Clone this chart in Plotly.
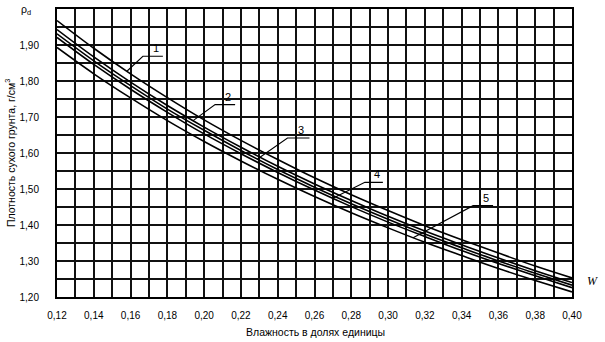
import numpy as np
import plotly.graph_objects as go

# Moisture content (fraction) and dry density curves (g/cm3)
W = [0.12, 0.14, 0.16, 0.18, 0.20, 0.22, 0.24, 0.26, 0.28, 0.30, 0.32, 0.34, 0.36, 0.38, 0.40]
curve1 = [1.968, 1.891, 1.820, 1.754, 1.692, 1.635, 1.582, 1.531, 1.484, 1.440, 1.398, 1.359, 1.322, 1.286, 1.253]
curve2 = [1.943, 1.867, 1.797, 1.732, 1.672, 1.616, 1.563, 1.514, 1.468, 1.424, 1.383, 1.345, 1.308, 1.273, 1.240]
curve3 = [1.931, 1.856, 1.787, 1.722, 1.663, 1.607, 1.554, 1.505, 1.459, 1.416, 1.375, 1.337, 1.300, 1.266, 1.233]
curve4 = [1.921, 1.846, 1.777, 1.713, 1.653, 1.598, 1.546, 1.497, 1.451, 1.408, 1.368, 1.329, 1.293, 1.259, 1.226]
curve5 = [1.893, 1.820, 1.753, 1.690, 1.632, 1.578, 1.527, 1.479, 1.434, 1.392, 1.352, 1.315, 1.279, 1.246, 1.214]
curves = [curve1, curve2, curve3, curve4, curve5]
curve_labels = ["1", "2", "3", "4", "5"]
# moisture where each label's leader touches its curve
leader_W = [0.158, 0.194, 0.229, 0.270, 0.3136]

x_ticks = [0.12, 0.14, 0.16, 0.18, 0.20, 0.22, 0.24, 0.26, 0.28, 0.30, 0.32, 0.34, 0.36, 0.38, 0.40]
y_ticks = [1.20, 1.30, 1.40, 1.50, 1.60, 1.70, 1.80, 1.90]

FONT = "Liberation Sans, Arial, sans-serif"
X_RANGE = [0.12, 0.40]
Y_RANGE = [1.20, 2.00]
L, R, T, B = 57, 33, 9, 45
WIDTH, HEIGHT = 605, 342
pw = WIDTH - L - R
ph = HEIGHT - T - B
dx_px = (X_RANGE[1] - X_RANGE[0]) / pw
dy_px = (Y_RANGE[1] - Y_RANGE[0]) / ph

fig = go.Figure()
for c in curves:
    fig.add_trace(go.Scatter(x=W, y=c, mode="lines",
                             line=dict(color="#000", width=1.6, shape="spline"),
                             showlegend=False, hoverinfo="skip"))

# leader lines: (knee dx, knee dy, horizontal length) in px
leader_geom = [(16, -15, 20), (22, -16, 20), (30, -21, 22), (32, -16, 18), (60, -32, 20)]
for lab, lw, c, (kx, ky, hl) in zip(curve_labels, leader_W, curves, leader_geom):
    ty = float(np.interp(lw, W, c))
    kxv = lw + kx * dx_px
    kyv = ty - ky * dy_px
    ex = kxv + hl * dx_px
    fig.add_shape(type="path", xref="x", yref="y",
                  path=f"M {lw},{ty} L {kxv},{kyv} L {ex},{kyv}",
                  line=dict(color="#000", width=1.1))
    fig.add_annotation(x=(kxv + ex) / 2 + 3 * dx_px, y=kyv, xref="x", yref="y",
                       text=lab, showarrow=False, yanchor="bottom", xanchor="center",
                       font=dict(family=FONT, size=11, color="#000"))

fig.update_xaxes(range=X_RANGE, tickvals=x_ticks, tickformat=".2f",
                 showgrid=True, gridcolor="#111", gridwidth=1.5,
                 minor=dict(dtick=0.01, tick0=0.12, showgrid=True, gridcolor="#111", gridwidth=1.5),
                 showline=True, linecolor="#000", linewidth=2, mirror=True,
                 ticks="", ticklabelstandoff=8, zeroline=False,
                 tickfont=dict(family=FONT, size=10, color="#000"))
fig.update_yaxes(range=Y_RANGE, tickvals=y_ticks, tickformat=".2f",
                 showgrid=True, gridcolor="#111", gridwidth=1.5,
                 minor=dict(dtick=0.05, tick0=1.20, showgrid=True, gridcolor="#111", gridwidth=1.5),
                 showline=True, linecolor="#000", linewidth=2, mirror=True,
                 ticks="", ticklabelstandoff=14, zeroline=False,
                 tickfont=dict(family=FONT, size=10, color="#000"))

fig.add_annotation(xref="paper", yref="paper", x=-0.093, y=0.5, textangle=-90,
                   xanchor="center", yanchor="middle",
                   text="Плотность сухого грунта, г/см<sup>3</sup>", showarrow=False,
                   font=dict(family=FONT, size=10.5, color="#000"))
fig.add_annotation(xref="paper", yref="paper", x=-0.060, y=0.995,
                   xanchor="center", yanchor="middle",
                   text="ρ<sub>d</sub>", showarrow=False,
                   font=dict(family=FONT, size=10.5, color="#000"))
fig.add_annotation(xref="paper", yref="paper", x=0.501, y=-0.1215,
                   xanchor="center", yanchor="middle",
                   text="Влажность в долях единицы", showarrow=False,
                   font=dict(family=FONT, size=10.5, color="#000"))
fig.add_annotation(xref="paper", yref="paper", x=1.039, y=0.056,
                   xanchor="center", yanchor="middle",
                   text="<i>W</i>", showarrow=False,
                   font=dict(family="Liberation Serif, serif", size=12, color="#000"))

fig.update_layout(width=WIDTH, height=HEIGHT, separators=", ",
                  margin=dict(l=L, r=R, t=T, b=B, autoexpand=False),
                  plot_bgcolor="#fff", paper_bgcolor="#fff")
fig.write_html("out.html")
